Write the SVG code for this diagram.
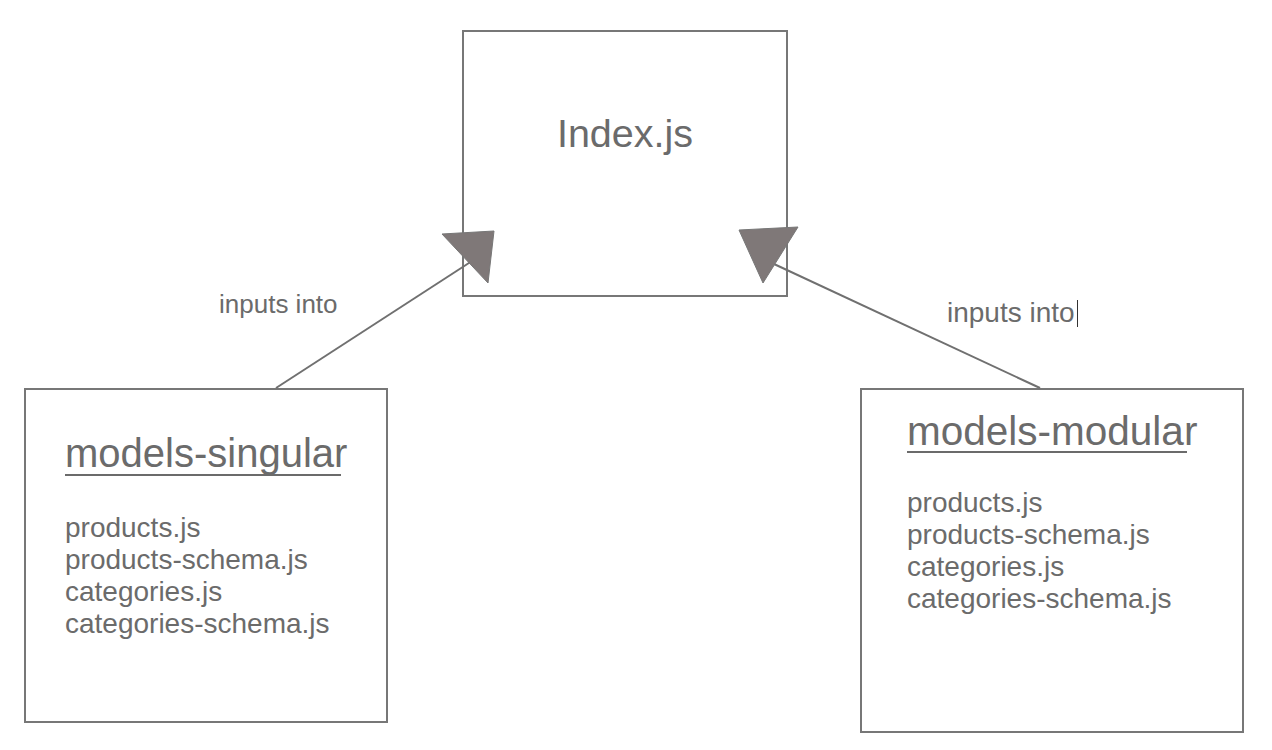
<svg xmlns="http://www.w3.org/2000/svg" width="1272" height="750" viewBox="0 0 1272 750">
<style>
.box{fill:#fff;stroke:#777;stroke-width:2}
.t{font-family:"Liberation Sans",Arial,sans-serif;fill:#6b6b6b}
.title{font-size:40px}
.item{font-size:28px}
.conn{stroke:#707070;stroke-width:2;fill:none}
.head{fill:#7f7878;stroke:#777;stroke-width:1}
</style>
<rect width="1272" height="750" fill="#fff"/>
<g id="index">
<rect class="box" x="463" y="31" width="324" height="265"/>
<text class="t" x="625" y="147" text-anchor="middle" font-size="39.5">Index.js</text>
</g>
<g id="models-singular">
<rect class="box" x="25" y="389" width="362" height="333"/>
<text class="t title" x="65" y="467">models-singular</text>
<line x1="65" y1="475" x2="341" y2="475" stroke="#6b6b6b" stroke-width="2"/>
<text class="t item" x="65" y="537">products.js</text>
<text class="t item" x="65" y="569">products-schema.js</text>
<text class="t item" x="65" y="601">categories.js</text>
<text class="t item" x="65" y="633">categories-schema.js</text>
</g>
<g id="models-modular">
<rect class="box" x="861" y="389" width="382" height="343"/>
<text class="t title" x="907" y="445" style="font-size:40.5px">models-modular</text>
<line x1="907" y1="452" x2="1187" y2="452" stroke="#6b6b6b" stroke-width="2"/>
<text class="t item" x="907" y="512">products.js</text>
<text class="t item" x="907" y="544">products-schema.js</text>
<text class="t item" x="907" y="576">categories.js</text>
<text class="t item" x="907" y="608">categories-schema.js</text>
</g>
<g id="connectors">
<line class="conn" x1="276" y1="388" x2="472" y2="261"/>
<polygon class="head" points="442,234 494,231 488,283"/>
<text class="t" x="219" y="313" font-size="26">inputs into</text>
<line class="conn" x1="1040" y1="388" x2="774" y2="264"/>
<polygon class="head" points="739,230 798,227 763,283"/>
<text class="t" x="947" y="322" font-size="28">inputs into</text>
<line x1="1077.5" y1="300" x2="1077.5" y2="327" stroke="#333" stroke-width="1"/>
</g>
</svg>
